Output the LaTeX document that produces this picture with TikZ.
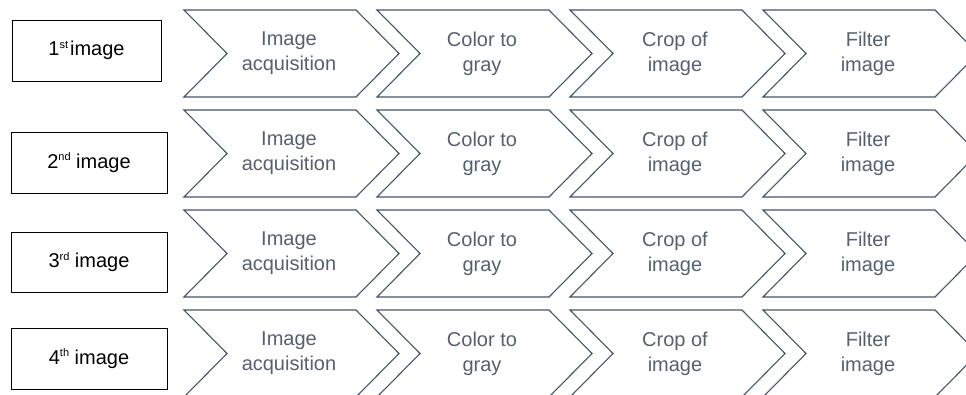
\documentclass[tikz,border=0pt]{standalone}
\usepackage{fontspec}
\setmainfont{Liberation Sans}
\definecolor{chevline}{HTML}{44546A}
\definecolor{chevtext}{HTML}{556070}
\newcommand{\supx}[1]{\raisebox{7.5pt}{\fontsize{11}{11}\selectfont #1}}
\begin{document}
\begin{tikzpicture}[x=1pt,y=-1pt,
  chev/.style={draw=chevline,line width=1.1pt,line join=miter},
  chevlabel/.style={text=chevtext,align=center,font=\fontsize{20}{25}\selectfont,inner sep=0pt},
  imgbox/.style={draw=black,line width=1pt},
  imglabel/.style={font=\fontsize{20}{24}\selectfont,inner sep=0pt}]
\clip (0,0) rectangle (966,394);
\fill[white] (0,0) rectangle (966,394);
% image boxes
\draw[imgbox] (12,20) rectangle (161,81);
\node[imglabel] (b1) at (86.5,50.5) {1\supx{st}\hspace{2pt}image};
\draw[imgbox] (11,132) rectangle (167,193);
\node[imglabel] (b2) at (89,162.5) {2\supx{nd} image};
\draw[imgbox] (11,232) rectangle (167,292);
\node[imglabel] (b3) at (89,262) {3\supx{rd} image};
\draw[imgbox] (11,328) rectangle (167,389);
\node[imglabel] (b4) at (89,358.5) {4\supx{th} image};
% chevrons
\foreach \r in {0,1,2,3}{
  \foreach \c/\txt in {0/{Image\\acquisition},1/{Color to\\gray},2/{Crop of\\image},3/{Filter\\image}}{
    \pgfmathsetmacro{\xs}{184+193*\c}
    \pgfmathsetmacro{\yt}{10+100*\r}
    \pgfmathsetmacro{\yb}{97+100*\r}
    \pgfmathsetmacro{\ym}{53.5+100*\r}
    \draw[chev] (\xs,\yt) -- (\xs+172,\yt) -- (\xs+215,\ym) -- (\xs+172,\yb) -- (\xs,\yb) -- (\xs+43,\ym) -- cycle;
    \node[chevlabel] (t\r\c) at (\xs+105,\ym) {\txt};
  }
}
\end{tikzpicture}
\end{document}
